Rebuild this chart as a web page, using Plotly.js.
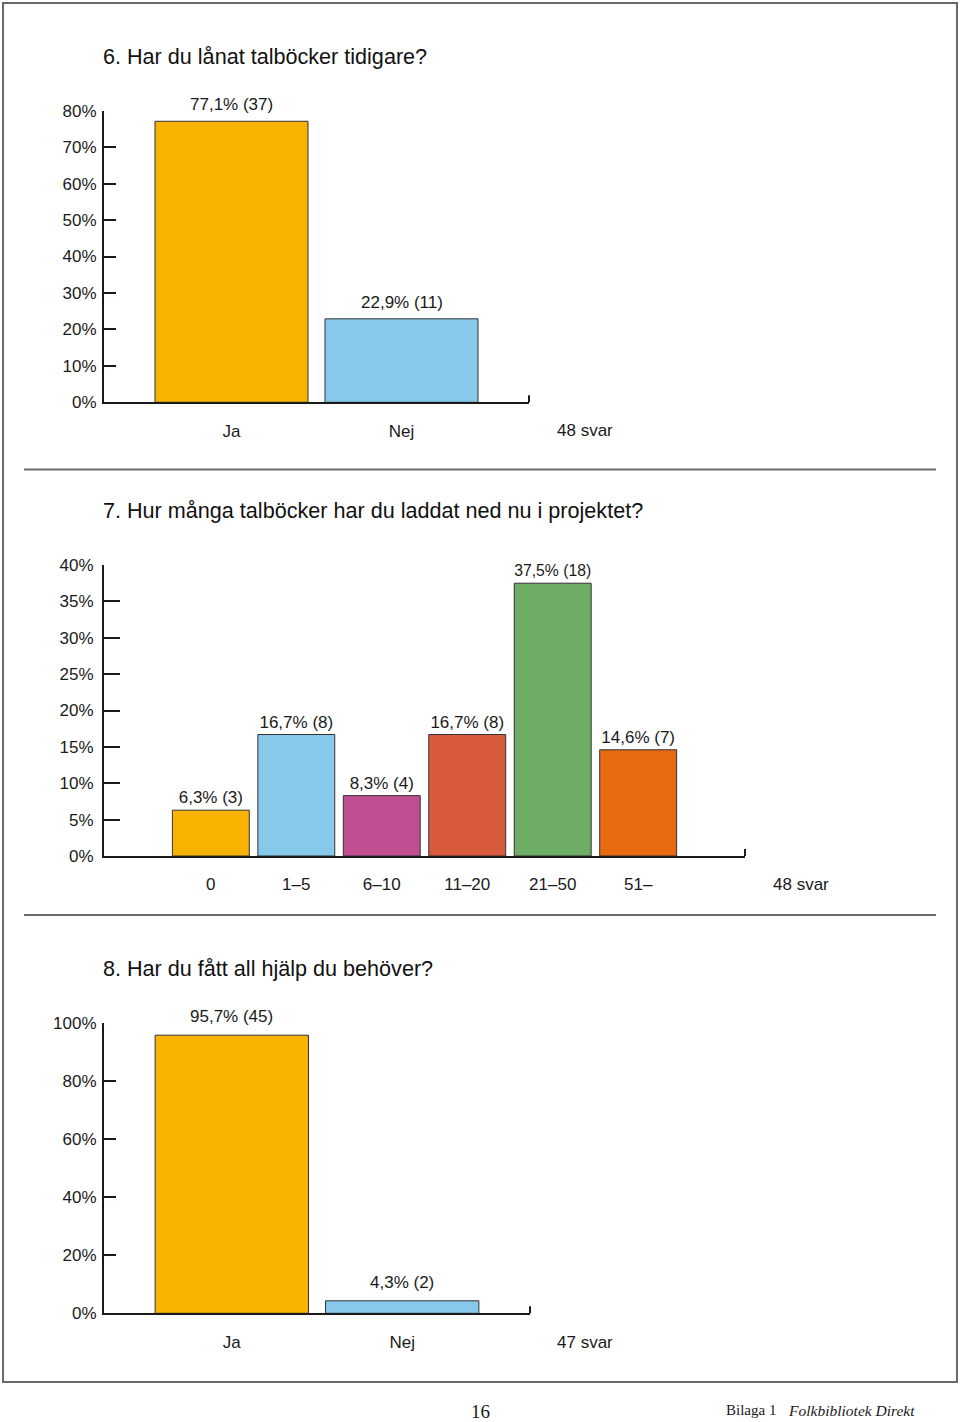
<!DOCTYPE html>
<html>
<head>
<meta charset="utf-8">
<script src="https://cdn.plot.ly/plotly-3.0.1.min.js"></script>
<style>html,body{margin:0;padding:0;background:#fff;}#chart{width:960px;height:1422px;}</style>
</head>
<body>
<div id="chart"></div>
<script>
// ---- Data ----
const q6Title = '6. Har du lånat talböcker tidigare?';
const q6Categories = ['Ja', 'Nej'];
const q6Values = [77.1, 22.9];
const q6Counts = [37, 11];
const q6Total = '48 svar';
const q6TickVals = [0, 10, 20, 30, 40, 50, 60, 70, 80];

const q7Title = '7. Hur många talböcker har du laddat ned nu i projektet?';
const q7Categories = ['0', '1–5', '6–10', '11–20', '21–50', '51–'];
const q7Values = [6.3, 16.7, 8.3, 16.7, 37.5, 14.6];
const q7Counts = [3, 8, 4, 8, 18, 7];
const q7Total = '48 svar';
const q7TickVals = [0, 5, 10, 15, 20, 25, 30, 35, 40];

const q8Title = '8. Har du fått all hjälp du behöver?';
const q8Categories = ['Ja', 'Nej'];
const q8Values = [95.7, 4.3];
const q8Counts = [45, 2];
const q8Total = '47 svar';
const q8TickVals = [0, 20, 40, 60, 80, 100];

const pageNumber = '16';
const footerLeft = 'Bilaga 1';
const footerRight = 'Folkbibliotek Direkt';

// ---- Styles ----
const W = 960, H = 1422;
const FONT = '"Liberation Sans", Arial, Helvetica, sans-serif';
const SERIF = '"Liberation Serif", "DejaVu Serif", serif';
const INK = '#1a1a1a';
const twoColors = ['#F7B300', '#87C9EB'];
const sixColors = ['#F7B300', '#87C9EB', '#C04F91', '#D95B3D', '#6DAD65', '#E8690F'];

const fx = p => p / W;
const fy = p => 1 - p / H;
const fmt = (v, n) => v.toFixed(1).replace('.', ',') + '% (' + n + ')';

function barTrace(cats, vals, counts, colors, xa, ya, withText) {
  const t = {
    type: 'bar', x: cats, y: vals, xaxis: xa, yaxis: ya,
    width: 0.9,
    marker: {color: colors, line: {color: '#333333', width: 1}},
    hoverinfo: 'none'
  };
  if (withText) {
    t.text = vals.map((v, i) => fmt(v, counts[i]));
    t.textposition = 'outside';
    t.cliponaxis = false;
    t.textfont = {family: FONT, size: 17, color: INK};
  }
  return t;
}

// value labels as annotations anchored to the bar tops (data coordinates)
function valueLabels(cats, vals, counts, xa, ya, shift) {
  return cats.map((c, i) => ({
    text: fmt(vals[i], counts[i]), xref: xa, yref: ya, x: c, y: vals[i],
    xanchor: 'center', yanchor: 'bottom', yshift: shift, showarrow: false,
    font: {family: FONT, size: 17, color: INK}
  }));
}

function xAxis(domPx, range, anchor) {
  return {
    domain: [fx(domPx[0]), fx(domPx[1])], anchor: anchor, range: range,
    type: 'category', showline: true, linecolor: INK, linewidth: 2,
    ticks: 'outside', ticklen: 12, tickcolor: 'rgba(0,0,0,0)',
    showgrid: false, zeroline: false, fixedrange: true,
    tickfont: {family: FONT, size: 17, color: INK}
  };
}
function yAxis(domPx, range, tickvals, ticklen, standoff, anchor) {
  return {
    domain: [fy(domPx[1]), fy(domPx[0])], anchor: anchor, range: range,
    tickmode: 'array', tickvals: tickvals, ticktext: tickvals.map(v => v + '%'),
    ticks: 'inside', ticklen: ticklen, tickwidth: 2, tickcolor: INK,
    showline: true, linecolor: INK, linewidth: 2,
    showgrid: false, zeroline: false, fixedrange: true,
    ticklabelstandoff: standoff,
    tickfont: {family: FONT, size: 17, color: INK}
  };
}

const data = [
  barTrace(q6Categories, q6Values, q6Counts, twoColors, 'x', 'y', false),
  barTrace(q7Categories, q7Values, q7Counts, sixColors, 'x2', 'y2', true),
  barTrace(q8Categories, q8Values, q8Counts, twoColors, 'x3', 'y3', false)
];

function endTick(xa, ya) {
  return {type: 'line', xref: xa + ' domain', x0: 1, x1: 1,
    yref: ya + ' domain', ysizemode: 'pixel', yanchor: 0, y0: 0, y1: 7,
    line: {color: INK, width: 2}};
}
function hline(y) {
  return {type: 'line', xref: 'paper', yref: 'paper', x0: fx(24), x1: fx(936), y0: fy(y), y1: fy(y),
    line: {color: '#6a6a6a', width: 2}};
}
function title(text, y) {
  return {text: text, xref: 'paper', yref: 'paper', x: fx(101), y: fy(y), xanchor: 'left', yanchor: 'middle',
    showarrow: false, font: {family: FONT, size: 21.6, color: '#111111'}};
}
function note(text, x, y) {
  return {text: text, xref: 'paper', yref: 'paper', x: fx(x), y: fy(y), xanchor: 'center', yanchor: 'middle',
    showarrow: false, font: {family: FONT, size: 17, color: INK}};
}

const layout = {
  width: W, height: H,
  margin: {l: 0, r: 0, t: 0, b: 0},
  paper_bgcolor: '#ffffff', plot_bgcolor: 'rgba(0,0,0,0)',
  showlegend: false, bargap: 0.1,
  xaxis: xAxis([104, 529], [-0.75, 1.75], 'y'),
  yaxis: yAxis([110.7, 402.3], [0, 80], q6TickVals, 12, 2, 'x'),
  xaxis2: xAxis([104, 745], [-1.25, 6.25], 'y2'),
  yaxis2: yAxis([565, 856], [0, 40], q7TickVals, 16, 5, 'x2'),
  xaxis3: xAxis([104, 530], [-0.75, 1.75], 'y3'),
  yaxis3: yAxis([1022.7, 1313.3], [0, 100], q8TickVals, 12, 2, 'x3'),
  shapes: [
    {type: 'rect', xref: 'paper', yref: 'paper', x0: fx(3), x1: fx(957), y0: fy(1382), y1: fy(3),
      line: {color: '#6a6a6a', width: 2}},
    hline(469.5), hline(915),
    endTick('x', 'y'), endTick('x2', 'y2'), endTick('x3', 'y3')
  ],
  annotations: [
    title(q6Title, 56), title(q7Title, 511), title(q8Title, 968),
    note(q6Total, 585, 430), note(q7Total, 801, 885), note(q8Total, 585, 1342),
    ...valueLabels(q6Categories, q6Values, q6Counts, 'x', 'y', 5),
    ...valueLabels(q8Categories, q8Values, q8Counts, 'x3', 'y3', 7),
    {text: pageNumber, xref: 'paper', yref: 'paper', x: fx(480), y: fy(1411), xanchor: 'center', yanchor: 'middle',
      showarrow: false, font: {family: SERIF, size: 19, color: INK}},
    {text: footerLeft, xref: 'paper', yref: 'paper', x: fx(724), y: fy(1410), xanchor: 'left', yanchor: 'middle',
      showarrow: false, font: {family: SERIF, size: 15, color: INK}},
    {text: '<i>' + footerRight + '</i>', xref: 'paper', yref: 'paper', x: fx(786), y: fy(1410), xanchor: 'left', yanchor: 'middle',
      showarrow: false, font: {family: SERIF, size: 15.5, color: INK}}
  ]
};

Plotly.newPlot('chart', data, layout, {staticPlot: true, displayModeBar: false});
</script>
</body>
</html>
